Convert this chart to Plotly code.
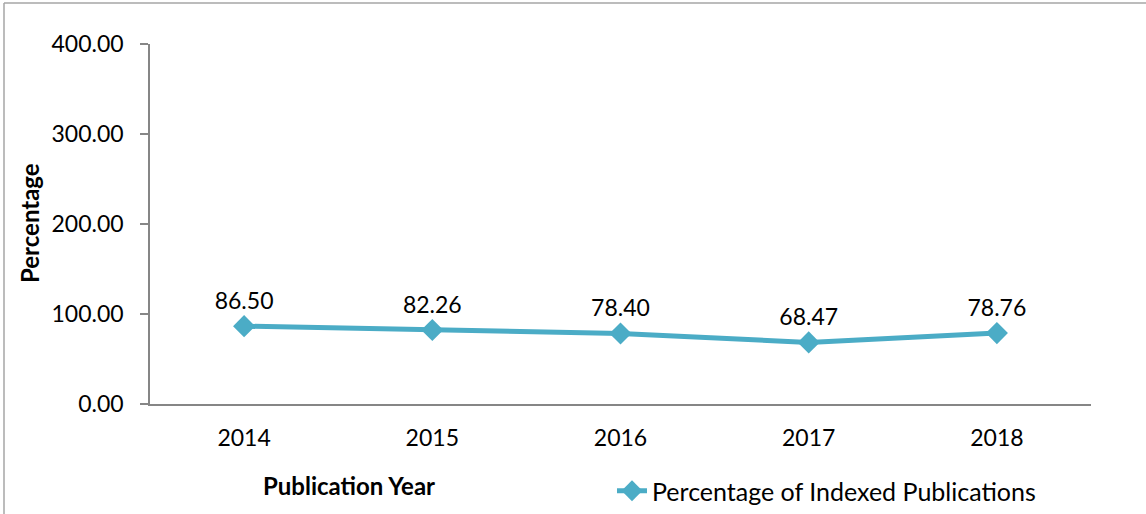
import plotly.graph_objects as go

years = ["2014", "2015", "2016", "2017", "2018"]
pct_indexed = [86.50, 82.26, 78.40, 68.47, 78.76]
y_ticks = [0, 100, 200, 300, 400]

W, H = 1146, 514
L, R, T, B = 150, 55, 44, 110
pw, ph = W - L - R, H - T - B

def px_x(x):
    return (x - L) / pw

def px_y(y):
    return (H - B - y) / ph

font_name = "Lato, 'Open Sans', sans-serif"
line_col = "#4BACC6"
axis_col = "#868686"

fig = go.Figure()

fig.add_trace(go.Scatter(
    x=years,
    y=pct_indexed,
    mode="lines+markers+text",
    name="Percentage of Indexed Publications",
    line=dict(color=line_col, width=5),
    marker=dict(symbol="diamond", size=17, color=line_col),
    text=[f"{v:.2f}" for v in pct_indexed],
    textposition="top center",
    textfont=dict(size=23, color="#000000", family=font_name),
))

fig.update_layout(
    width=W, height=H,
    # keep the legend below the axis from shrinking the plot area
    margin=dict(l=L, r=R, t=T, b=B, autoexpand=False),
    paper_bgcolor="white",
    plot_bgcolor="white",
    font=dict(family=font_name, size=23, color="#000000"),
    showlegend=True,
    legend=dict(
        orientation="h",
        x=px_x(612), xanchor="left",
        y=px_y(491), yanchor="middle",
        font=dict(size=25),
        bgcolor="rgba(0,0,0,0)",
    ),
    xaxis=dict(
        type="category",
        range=[-0.5, 4.5],
        showline=True, linecolor=axis_col, linewidth=1.5,
        ticks="", showgrid=False, zeroline=False,
        ticklabelstandoff=13,
        tickfont=dict(size=23),
    ),
    yaxis=dict(
        range=[0, 400],
        tickvals=y_ticks,
        tickformat=".2f",
        showline=True, linecolor=axis_col, linewidth=1.5,
        ticks="outside", ticklen=8, tickcolor=axis_col, tickwidth=1.5,
        ticklabelstandoff=12,
        showgrid=False, zeroline=False,
        tickfont=dict(size=23),
    ),
)

# axis titles placed like the original
fig.add_annotation(
    text="<b>Percentage</b>", textangle=-90,
    xref="paper", yref="paper",
    x=px_x(29), y=px_y(223),
    xanchor="center", yanchor="middle",
    showarrow=False, font=dict(size=24),
)
fig.add_annotation(
    text="<b>Publication Year</b>",
    xref="paper", yref="paper",
    x=px_x(349), y=px_y(485),
    xanchor="center", yanchor="middle",
    showarrow=False, font=dict(size=24),
)

# chart border: only top and left edges are visible in the original
border = dict(color="#A6A6A6", width=1.5)
fig.add_shape(type="line", xref="paper", yref="paper",
              x0=px_x(4), y0=px_y(3), x1=px_x(W), y1=px_y(3), line=border)
fig.add_shape(type="line", xref="paper", yref="paper",
              x0=px_x(4), y0=px_y(3), x1=px_x(4), y1=px_y(H), line=border)

page_fix = (
    "document.body.style.margin='0';"
    "document.body.style.overflow='hidden';"
    "document.documentElement.style.overflow='hidden';"
)
fig.write_html("out.html", config={"displayModeBar": False}, post_script=page_fix)
